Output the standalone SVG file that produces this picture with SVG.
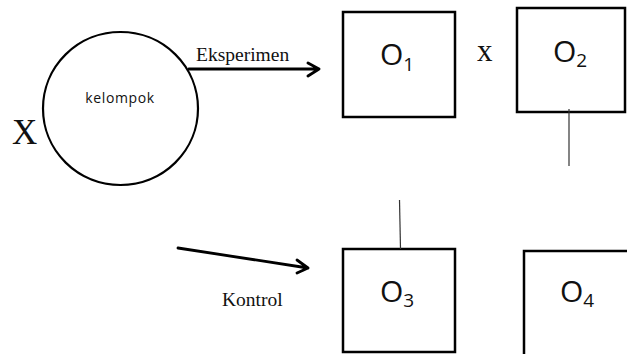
<svg xmlns="http://www.w3.org/2000/svg" width="627" height="354" viewBox="0 0 627 354">
<style>
.box{fill:#fff;stroke:#000;stroke-width:2.5}
.serif{font-family:"Liberation Serif","Times New Roman",serif;fill:#111}
.sans{font-family:"Open Sans","Liberation Sans",Arial,sans-serif;fill:#111}
.arrow{fill:none;stroke:#000;stroke-width:2.8;stroke-linecap:round;stroke-linejoin:round}
.thin{fill:none;stroke:#333;stroke-width:1.2}
</style>
<rect width="627" height="354" fill="#fff"/>
<g id="kelompok">
<ellipse cx="120.5" cy="108.5" rx="77.5" ry="76.5" fill="#fff" stroke="#000" stroke-width="2.2"/>
<text class="sans" x="120" y="103" font-size="14" letter-spacing="0.6" text-anchor="middle">kelompok</text>
</g>
<g id="X">
<text class="serif" x="12" y="144" font-size="35">X</text>
</g>
<g id="O1">
<rect class="box" x="343" y="12" width="112" height="105"/>
<text class="sans" x="380" y="65" font-size="30">O<tspan font-size="19" dy="6">1</tspan></text>
</g>
<g id="x-label">
<text class="serif" x="477" y="61" font-size="31">x</text>
</g>
<g id="O2">
<rect class="box" x="517" y="8" width="108" height="104"/>
<text class="sans" x="553" y="62" font-size="30">O<tspan font-size="19" dy="5">2</tspan></text>
</g>
<g id="O3">
<rect class="box" x="343" y="249" width="112" height="103"/>
<text class="sans" x="380" y="302" font-size="30">O<tspan font-size="19" dy="5">3</tspan></text>
</g>
<g id="O4">
<rect class="box" x="524" y="251" width="110" height="110"/>
<text class="sans" x="560" y="302" font-size="30">O<tspan font-size="19" dy="5">4</tspan></text>
</g>
<g id="connectors">
<path class="arrow" d="M189 69 L319 69 M308 63 L319 69 L308 76"/>
<text class="serif" x="196" y="61" font-size="19.5">Eksperimen</text>
<path class="arrow" d="M178 248 L308 268 M297 260 L308 268 L297 273"/>
<text class="serif" x="222" y="306" font-size="19.5">Kontrol</text>
<line class="thin" x1="569" y1="109" x2="569" y2="166"/>
<line class="thin" x1="399.5" y1="200" x2="400.5" y2="249"/>
</g>
</svg>
